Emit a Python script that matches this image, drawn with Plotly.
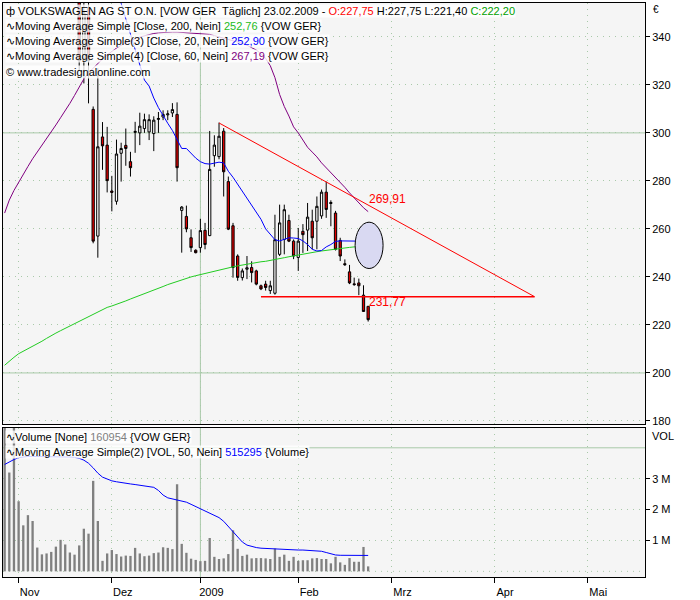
import numpy as np
import pandas as pd
import plotly.graph_objects as go

# Xetra trading calendar, Oct 2008 - May 2009 (axis is in trading days)
holidays = ['2008-12-24', '2008-12-25', '2008-12-26', '2008-12-31',
            '2009-01-01', '2009-04-10', '2009-04-13', '2009-05-01']
calendar = pd.bdate_range('2008-10-29', '2009-05-29', freq='C', holidays=holidays)

month_names = ['Nov', 'Dez', '2009', 'Feb', 'Mrz', 'Apr', 'Mai']
month_starts = ['2008-11', '2008-12', '2009-01', '2009-02', '2009-03', '2009-04', '2009-05']

# VOW GER daily candles, 29.10.2008 - 23.02.2009 (first ones are above the visible range)
opens = [600, 520, 460, 430, 450, 445, 420, 400, 415, 410, 405, 390, 380, 370, 378, 372,
         366, 331, 352, 309.8, 257, 298.3, 294.9, 275.8, 271.5, 291.5, 294.8, 288, 300.2, 300,
         301.8, 300.4, 299.7, 305.6, 306.6, 307.5, 308.3, 307.7, 267.7, 265.2, 256.3, 251.1,
         252.2, 259.4, 257.2, 290.5, 290.1, 300.7, 279.7, 261.3, 248.7, 239.7, 243.2, 243.9,
         242.5, 236.3, 237, 234.3, 233.2, 249.4, 255.6, 263.5, 254.9, 248.1, 259, 259.5, 263.2,
         263.2, 265.4, 275.3, 271, 266.6, 255.2, 245.5, 242.1, 237.1, 237.5, 232.4, 227.75]
highs = [680, 540, 480, 470, 480, 460, 440, 425, 430, 420, 420, 400, 395, 385, 390, 380,
         372, 360, 358, 311, 327, 304.5, 302.5, 282.1, 297.2, 295.9, 301.8, 292.1, 304.6, 308.4,
         308, 307.7, 306.9, 308.7, 309.4, 309.4, 312.4, 312.7, 269.5, 269.7, 259.8, 251.5,
         264.2, 262.5, 300.8, 299, 304.3, 302, 281.8, 262.5, 249.4, 243.5, 248.7, 246.5,
         243, 236.8, 238.4, 238.4, 265.9, 270.1, 270.1, 265.9, 255.6, 260.4, 262, 270.8, 268,
         273.5, 276.4, 279.7, 271.9, 267.5, 256.3, 247.3, 245, 239.7, 239.3, 236.5, 227.75]
lows = [500, 440, 400, 410, 430, 410, 395, 390, 400, 395, 385, 375, 365, 362, 365, 358,
        326, 320.6, 312.3, 254, 248, 284.6, 275.2, 267.3, 270.1, 279.7, 286.3, 281.8, 291.7, 294.9,
        300, 297, 292.4, 300, 305.3, 305.3, 306.6, 279.7, 250.1, 258.6, 250.4, 249.8,
        250.1, 251.5, 257, 285.9, 289, 273.5, 259.5, 239.7, 238.4, 238.5, 239.1, 237.7,
        236.5, 234.5, 234.3, 232.9, 232.6, 248.7, 249.4, 254.5, 247.4, 242.5, 250, 250.8, 251.5,
        251.5, 264.2, 264.6, 261.1, 251, 246.6, 244.6, 237, 236.3, 232.4, 225.5, 221.4]
closes = [517, 460, 420, 450, 445, 420, 400, 415, 410, 405, 390, 380, 370, 378, 372, 366,
          330, 350, 330, 254.9, 294.2, 294.6, 280.1, 275.2, 291.2, 293.5, 293.5, 285.5, 300.6, 302.8,
          305.5, 305.5, 305.3, 306, 307.7, 307.9, 309.7, 285.5, 269.1, 260, 252.2, 250.1,
          259.3, 253.5, 284.8, 294.9, 298.6, 283.8, 259.9, 243.9, 239.8, 242.5, 243.8, 241.8,
          237, 235, 235.6, 236.3, 255.5, 262.5, 268, 254.9, 248.7, 254.9, 257.6, 264.9, 256.3,
          269.4, 275.3, 268.1, 270.6, 251.5, 248.7, 245.1, 237.5, 236.8, 236.3, 225.6, 222.2]

# moving averages as drawn on the chart
ma200 = [203.2, 205.0, 206.5, 208.0, 209.0, 210.0, 211.0, 212.0, 213.2, 214.4, 215.6, 216.6,
         217.6, 218.6, 219.5, 220.5, 221.6, 222.6, 223.6, 224.6, 225.6, 226.6, 227.3, 227.9,
         228.5, 229.3, 230.0, 230.8, 231.5, 232.3, 233.0, 233.8, 234.5, 235.3, 236.0, 236.8,
         237.5, 238.2, 238.8, 239.5, 240.0, 240.5, 241.0, 241.4, 241.8, 242.3, 242.7, 243.2,
         243.7, 244.2, 244.6, 245.0, 245.4, 245.7, 246.0, 246.3, 246.5, 246.8, 247.2, 247.6,
         248.0, 248.4, 248.8, 249.2, 249.5, 249.8, 250.2, 250.5, 250.8, 251.1, 251.4, 251.7,
         251.9, 252.1, 252.3, 252.5, 252.6, 252.7, 252.76]
ma20 = [None] * 24 + [
    362, 354, 347.5, 341, 335, 328.5, 322, 319.5, 314.5, 310.5, 307, 304, 301, 297.5,
    293.5, 293.5, 291.5, 289.5, 288, 287.2, 287, 287.3, 287.8, 287.5, 284, 281.5, 278.5,
    275.5, 272.5, 269.5, 267, 264, 260, 257.5, 255.5, 255, 255.5, 256.3, 256.2, 256, 255,
    253.5, 251.5, 250.8, 251, 252.5, 253.5, 254.8, 255, 255, 255, 255, 254.9, 254.3, 252.9]
ma60 = [266.6, 272, 276, 279.5, 282.8, 286, 289.2, 292, 294.5, 297.2, 300.2, 303.3, 306.3,
        309.2, 312.3, 315.6, 319, 322.5, 325, 327, 329, 330.8, 332.5, 334, 335.3, 336.5,
        337.5, 338.4, 339.2, 339.9, 340.5, 341, 341.4, 341.7, 341.9, 342, 342, 342, 341.9,
        341.8, 341.7, 341.6, 341.5, 341.2, 341, 340.5, 340, 339.5, 339, 338.5, 338, 337.3,
        336.5, 335.5, 334.5, 333, 331, 328, 323, 316, 311, 307, 302.5, 300, 297, 294, 292,
        290, 287.5, 285.5, 283.5, 281.2, 279.2, 277.3, 275, 272.8, 270.8, 268.8, 267.19]

# volume in millions and its 50-day average
volume_m = [5.6, 3.2, 5.3, 2.27, 1.49, 1.82, 1.63, 0.77, 0.55, 0.58, 0.63, 0.80, 1.02, 0.87,
            0.61, 0.54, 0.84, 1.38, 1.22, 2.93, 1.63, 0.34, 0.58, 0.69, 0.56, 0.48, 0.51, 0.50,
            0.76, 0.58, 0.49, 0.51, 0.59, 0.61, 0.78, 0.76, 0.72, 2.82, 0.89, 0.60, 0.41, 0.37,
            0.33, 0.34, 1.08, 0.47, 0.40, 0.42, 0.56, 1.33, 0.73, 0.50, 0.54, 0.42, 0.43, 0.43,
            0.42, 0.40, 0.74, 0.47, 0.54, 0.34, 0.47, 0.34, 0.36, 0.36, 0.42, 0.43, 0.40, 0.40,
            0.26, 0.47, 0.29, 0.21, 0.43, 0.31, 0.31, 0.79, 0.161]
vol_ma_m = [3.46, 3.55, 3.62, 3.68, 3.71, 3.72, 3.72, 3.72, 3.72, 3.72, 3.72, 3.71, 3.71,
            3.70, 3.70, 3.69, 3.66, 3.60, 3.50, 3.35, 3.18, 3.05, 2.98, 2.93, 2.90, 2.87,
            2.85, 2.83, 2.81, 2.79, 2.77, 2.75, 2.72, 2.62, 2.47, 2.38, 2.34, 2.31, 2.28,
            2.24, 2.17, 2.10, 2.03, 1.95, 1.87, 1.80, 1.74, 1.62, 1.45, 1.28, 1.10, 0.95,
            0.85, 0.80, 0.77, 0.75, 0.74, 0.73, 0.72, 0.72, 0.71, 0.71, 0.70, 0.69, 0.69,
            0.68, 0.68, 0.67, 0.65, 0.61, 0.56, 0.53, 0.52, 0.52, 0.52, 0.52, 0.52, 0.52, 0.515]

# drawn trend lines (trading-day position, price)
trend_x = [46, 113.7]
trend_y = [304.13, 231.77]
support_x = [55, 113.7]
support_y = [231.77, 231.77]
trend_label = '269,91'
support_label = '231,77'

x = np.arange(len(closes))
volume = np.array(volume_m) * 1e6
vol_ma = np.array(vol_ma_m) * 1e6
cal = pd.Series(np.arange(len(calendar)), index=calendar)
month_pos = [int(cal[m].iloc[0]) for m in month_starts]
year_pos = month_pos[month_names.index('2009')]

FONT = 'Liberation Sans, Arial, sans-serif'
GRID = '#a9c9a9'
DOTS = '1px,5px'

W, H = 700, 600
L, R, T, B = 2, 645, 2, 580


def px(xp):
    return (xp - L) / (R - L)


def py(yp):
    return (B - yp) / (B - T)


fig = go.Figure()

fig.add_trace(go.Candlestick(
    x=x, open=opens, high=highs, low=lows, close=closes,
    increasing=dict(line=dict(color='black', width=1), fillcolor='white'),
    decreasing=dict(line=dict(color='black', width=1), fillcolor='#e00000'),
    whiskerwidth=0, showlegend=False, xaxis='x', yaxis='y'))

for vals, col in [(ma200, '#22cc22'), (ma20, '#0000ff'), (ma60, '#800080')]:
    fig.add_trace(go.Scatter(x=x, y=vals, mode='lines', line=dict(color=col, width=1),
                             showlegend=False, xaxis='x', yaxis='y'))

fig.add_trace(go.Scatter(x=trend_x, y=trend_y, mode='lines',
                         line=dict(color='#ff0000', width=1), showlegend=False))
fig.add_trace(go.Scatter(x=support_x, y=support_y, mode='lines',
                         line=dict(color='#ff0000', width=1.5), showlegend=False))

fig.add_trace(go.Bar(x=x, y=volume, marker=dict(color='#808080', line=dict(width=0)),
                     width=0.5, showlegend=False, xaxis='x2', yaxis='y2'))
fig.add_trace(go.Scatter(x=x, y=vol_ma, mode='lines', line=dict(color='#0000ff', width=1),
                         showlegend=False, xaxis='x2', yaxis='y2'))

xr = [-0.35, 137.4]
common_x = dict(range=xr, tickvals=month_pos, showgrid=True, gridcolor=GRID, griddash=DOTS,
                zeroline=False, showline=True, linecolor='black', linewidth=1, mirror=True)
fig.update_layout(
    width=W, height=H,
    margin=dict(l=L, r=W - R, t=T, b=H - B),
    paper_bgcolor='white', plot_bgcolor='#f5f5f5',
    font=dict(family=FONT, size=11, color='black'),
    showlegend=False, hovermode=False,
    xaxis=dict(common_x, anchor='y', showticklabels=False, ticks='',
               rangeslider=dict(visible=False)),
    xaxis2=dict(common_x, anchor='y2', matches='x', ticktext=month_names,
                ticks='outside', ticklen=5, tickcolor='black', ticklabelshift=11,
                ticklabelstandoff=0),
    yaxis=dict(domain=[py(426), 1], range=[178.7, 354.1], side='right',
               tickvals=list(range(180, 341, 20)), ticks='outside', ticklen=4,
               tickcolor='black', showgrid=True, gridcolor=GRID, griddash=DOTS,
               zeroline=False, showline=True, linecolor='black', mirror=True),
    yaxis2=dict(domain=[0, py(430)], range=[-0.183e6, 4.64e6], side='right',
                tickvals=[1e6, 2e6, 3e6], ticktext=['1 M', '2 M', '3 M'],
                ticks='outside', ticklen=4, tickcolor='black', showgrid=True,
                gridcolor=GRID, griddash=DOTS, zeroline=False, showline=True,
                linecolor='black', mirror=True),
)

# solid grid lines and the zero line of the volume panel
solid = dict(color=GRID, width=1)
for yv in (300, 200):
    fig.add_shape(type='line', xref='x domain', x0=0, x1=1, yref='y', y0=yv, y1=yv,
                  line=solid, layer='below')
fig.add_shape(type='line', xref='x2 domain', x0=0, x1=1, yref='y2', y0=4e6, y1=4e6,
              line=solid, layer='below')
fig.add_shape(type='line', xref='x2 domain', x0=0, x1=1, yref='y2', y0=0, y1=0,
              line=dict(color=GRID, width=1, dash=DOTS), layer='below')
for yr in ('y domain', 'y2 domain'):
    fig.add_shape(type='line', xref='x', x0=year_pos, x1=year_pos, yref=yr, y0=0, y1=1,
                  line=solid, layer='below')

# highlighted area at the last bars
fig.add_shape(type='circle', xref='x', yref='y', x0=75.2, x1=81.2, y0=243.5, y1=262.8,
              fillcolor='#d9d9f2', line=dict(color='black', width=1))

fig.add_annotation(x=77.8, y=272.6, xref='x', yref='y', text=trend_label, showarrow=False,
                   xanchor='left', yanchor='middle', font=dict(color='#ff0000', size=12))
fig.add_annotation(x=77.8, y=229.7, xref='x', yref='y', text=support_label, showarrow=False,
                   xanchor='left', yanchor='middle', font=dict(color='#ff0000', size=12))

rows = [
    (10, "ф VOLKSWAGEN AG ST O.N. [VOW GER  Täglich] 23.02.2009 - "
         "<span style='color:#ff0000'>O:227,75</span> H:227,75 L:221,40 "
         "<span style='color:#00a000'>C:222,20</span>"),
    (25, "∿Moving Average Simple [Close, 200, Nein] "
         "<span style='color:#22bb22'>252,76</span> {VOW GER}"),
    (40, "∿Moving Average Simple(3) [Close, 20, Nein] "
         "<span style='color:#0000ff'>252,90</span> {VOW GER}"),
    (55, "∿Moving Average Simple(4) [Close, 60, Nein] "
         "<span style='color:#800080'>267,19</span> {VOW GER}"),
    (71, "© www.tradesignalonline.com"),
    (439, "∿Volume [None] <span style='color:#808080'>160954</span> {VOW GER}"),
    (454, "∿Moving Average Simple(2) [VOL, 50, Nein] "
          "<span style='color:#0000ff'>515295</span> {Volume}"),
]
for yp, txt in rows:
    fig.add_annotation(x=px(4), y=py(yp), xref='paper', yref='paper', text=txt,
                       showarrow=False, xanchor='left', yanchor='middle',
                       bgcolor='rgba(255,255,255,0.8)', borderpad=0,
                       font=dict(size=11, color='black'))

fig.add_annotation(x=px(651), y=py(9), xref='paper', yref='paper', text='€',
                   showarrow=False, xanchor='left', yanchor='middle', font=dict(size=10))
fig.add_annotation(x=px(650), y=py(438), xref='paper', yref='paper', text='VOL',
                   showarrow=False, xanchor='left', yanchor='middle', font=dict(size=11))

fig.write_html("out.html", config={'displayModeBar': False},
               post_script="document.body.style.margin='0px';")
